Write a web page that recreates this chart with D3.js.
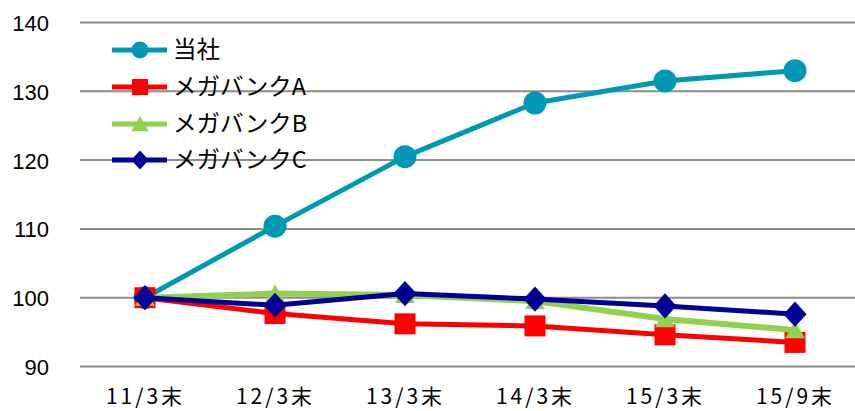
<!DOCTYPE html>
<html>
<head>
<meta charset="utf-8">
<script src="https://cdn.jsdelivr.net/npm/d3@7"></script>
<style>
  html, body { margin: 0; padding: 0; background: #fff; }
  svg { display: block; }
  text { font-family: "Noto Sans CJK JP", "Noto Sans", sans-serif; fill: #000; }
</style>
</head>
<body>
<svg id="chart" width="855" height="411"></svg>
<script>
// Period-end labels
const categories = ["11/3末", "12/3末", "13/3末", "14/3末", "15/3末", "15/9末"];

// Indexed values (11/3末 = 100)
const seriesNames = ["当社", "メガバンクA", "メガバンクB", "メガバンクC"];
const tousha = [100, 110.4, 120.5, 128.3, 131.5, 133.0];
const megaA  = [100, 97.7, 96.2, 95.9, 94.6, 93.5];
const megaB  = [100, 100.6, 100.4, 99.5, 96.9, 95.3];
const megaC  = [100, 98.9, 100.6, 99.8, 98.8, 97.6];

const yTicks = [90, 100, 110, 120, 130, 140];

const series = [
  { name: seriesNames[0], values: tousha, color: "#0099B4", marker: "circle",   width: 5 },
  { name: seriesNames[1], values: megaA,  color: "#FF0000", marker: "square",   width: 5 },
  { name: seriesNames[2], values: megaB,  color: "#92D050", marker: "triangle", width: 6 },
  { name: seriesNames[3], values: megaC,  color: "#000096", marker: "diamond",  width: 5 }
];

const svg = d3.select("#chart");

const x = d3.scalePoint().domain(categories).range([80, 860]).padding(0.5);
const y = d3.scaleLinear().domain([90, 140]).range([366.5, 22.5]);

// Horizontal gridlines
svg.append("g")
  .selectAll("line")
  .data(yTicks)
  .join("line")
  .attr("x1", 80).attr("x2", 860)
  .attr("y1", d => y(d)).attr("y2", d => y(d))
  .attr("stroke", "#8c8c8c")
  .attr("stroke-width", 2);

// Y axis labels
const yAxis = d3.axisLeft(y).tickValues(yTicks).tickSize(0).tickPadding(0);
const gy = svg.append("g").attr("transform", "translate(49,0)").call(yAxis);
gy.select(".domain").remove();
gy.selectAll("text")
  .attr("font-size", 22)
  .attr("dy", "0.36em")
  .style("font-family", "'Liberation Sans', Arial, sans-serif");

// X axis labels
const xAxis = d3.axisBottom(x).tickSize(0).tickPadding(0);
const gx = svg.append("g").attr("transform", "translate(0,389)").call(xAxis);
gx.select(".domain").remove();
gx.selectAll("text")
  .attr("font-size", 21)
  .attr("dy", "0.72em")
  .style("letter-spacing", "3px");

// Marker symbols
function markerPath(type, size) {
  const s = size;
  if (type === "circle") return d3.symbol(d3.symbolCircle, Math.PI * (s / 2) * (s / 2))();
  if (type === "square") return `M${-s/2},${-s/2}H${s/2}V${s/2}H${-s/2}Z`;
  if (type === "triangle") return `M0,${-s*0.5}L${s*0.55},${s*0.45}L${-s*0.55},${s*0.45}Z`;
  if (type === "diamond") return `M0,${-s*0.6}L${s*0.55},0L0,${s*0.6}L${-s*0.55},0Z`;
}

const markerSize = { circle: 23, square: 21, triangle: 18, diamond: 21 };

const line = d3.line()
  .x((d, i) => x(categories[i]))
  .y(d => y(d));

series.forEach(s => {
  const g = svg.append("g");
  g.append("path")
    .datum(s.values)
    .attr("d", line)
    .attr("fill", "none")
    .attr("stroke", s.color)
    .attr("stroke-width", s.width)
    .attr("stroke-linejoin", "round");
  g.selectAll("path.m")
    .data(s.values)
    .join("path")
    .attr("class", "m")
    .attr("d", markerPath(s.marker, markerSize[s.marker]))
    .attr("transform", (d, i) => `translate(${x(categories[i])},${y(d)})`)
    .attr("fill", s.color);
});

// Legend
const legend = svg.append("g");
const legendY = [50, 87, 124, 160];
const legendMarkerSize = { circle: 17, square: 16, triangle: 16, diamond: 16 };
series.forEach((s, i) => {
  const g = legend.append("g").attr("transform", `translate(0,${legendY[i]})`);
  g.append("line")
    .attr("x1", 112).attr("x2", 167)
    .attr("stroke", s.color).attr("stroke-width", 5);
  g.append("path")
    .attr("d", markerPath(s.marker, legendMarkerSize[s.marker]))
    .attr("transform", "translate(140,0)")
    .attr("fill", s.color);
  g.append("text")
    .attr("x", 173)
    .attr("dy", "0.36em")
    .attr("font-size", 23.5)
    .text(s.name);
});
</script>
</body>
</html>
